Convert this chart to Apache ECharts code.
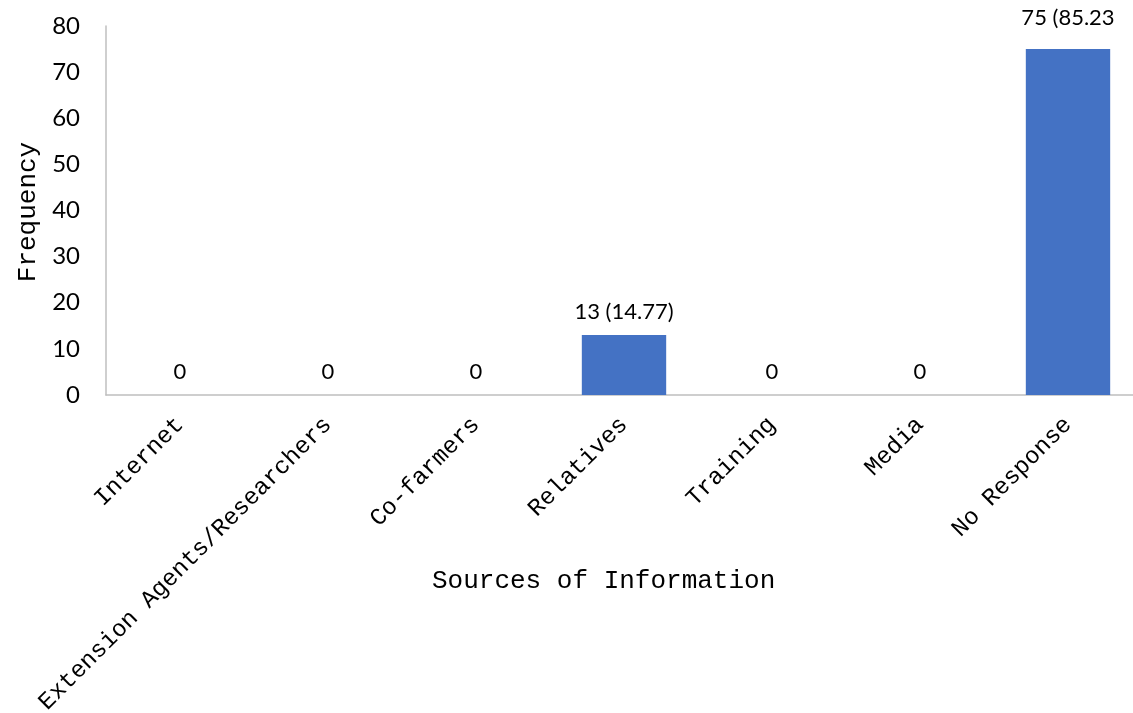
<!DOCTYPE html>
<html>
<head>
<meta charset="utf-8">
<script src="https://cdn.jsdelivr.net/npm/echarts@6/dist/echarts.min.js"></script>
<style>
  html, body { margin: 0; padding: 0; background: #ffffff; }
  #chart { width: 1133px; height: 713px; }
</style>
</head>
<body>
<div id="chart"></div>
<script>
// Sources of information reported by respondents
const categories = ['Internet', 'Extension Agents/Researchers', 'Co-farmers', 'Relatives', 'Training', 'Media', 'No Response'];
const frequency = [0, 0, 0, 13, 0, 0, 75];
const valueLabels = ['0', '0', '0', '13 (14.77)', '0', '0', '75 (85.23'];
const yTicks = { min: 0, max: 80, interval: 10 };

const serifMono = '"Liberation Mono", "DejaVu Sans Mono", monospace';
const sans = 'Lato, "Open Sans", "Liberation Sans", sans-serif';

const chart = echarts.init(document.getElementById('chart'), null, { renderer: 'canvas' });

// the tallest bar's label sits a little higher above its bar
const barData = frequency.map((v, i) => (
  i === frequency.length - 1 ? { value: v, label: { distance: 20 } } : v
));

chart.setOption({
  animation: false,
  backgroundColor: '#ffffff',
  grid: {
    left: 106, width: 1036, top: 26, bottom: 318,
    containLabel: false,
    outerBoundsMode: 'none'
  },
  xAxis: {
    type: 'category',
    data: categories,
    axisLine: { show: true, lineStyle: { color: '#bfbfbf', width: 1.5 } },
    axisTick: { show: false },
    axisLabel: {
      rotate: 45,
      interval: 0,
      margin: 26,
      color: '#000000',
      fontSize: 24,
      fontFamily: serifMono
    }
  },
  yAxis: {
    type: 'value',
    min: yTicks.min,
    max: yTicks.max,
    interval: yTicks.interval,
    axisLine: { show: true, lineStyle: { color: '#bfbfbf', width: 1.5 } },
    axisTick: { show: false },
    splitLine: { show: false },
    axisLabel: {
      color: '#000000',
      fontSize: 24,
      margin: 26,
      fontFamily: sans
    }
  },
  series: [{
    type: 'bar',
    data: barData,
    barCategoryGap: '43%',
    itemStyle: { color: '#4472C4' },
    label: {
      show: true,
      position: 'top',
      distance: 12,
      color: '#000000',
      fontSize: 22,
      fontFamily: sans,
      formatter: (p) => valueLabels[p.dataIndex]
    }
  }],
  graphic: [
    {
      type: 'text',
      left: 432,
      top: 568,
      style: { text: 'Sources of Information', font: '26px ' + serifMono, fill: '#000000' }
    },
    {
      type: 'text',
      x: 28,
      y: 212,
      rotation: Math.PI / 2,
      style: {
        text: 'Frequency',
        font: '26px ' + serifMono,
        fill: '#000000',
        align: 'center',
        verticalAlign: 'middle'
      },
      originX: 0,
      originY: 0
    }
  ]
});
</script>
</body>
</html>
